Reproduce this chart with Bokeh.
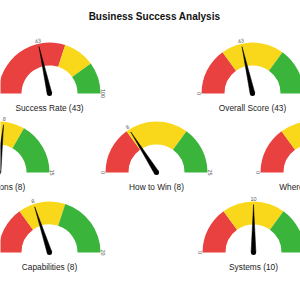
import math
from bokeh.plotting import figure
from bokeh.models import ColumnDataSource, Range1d
from bokeh.core.properties import value
from bokeh.embed import file_html
from bokeh.resources import INLINE

# ---- data ----
names = ["Success Rate", "Overall Score", "Aspirations", "How to Win", "Where to Play", "Capabilities", "Systems"]
values = [43, 43, 8, 8, 8, 8, 10]
maxes = [100, 100, 15, 25, 15, 20, 20]
red_end = [60, 30, 5, 7.5, 4.5, 6, 6]
yellow_end = [80, 70, 10, 17.5, 10.5, 12, 14]

# ---- layout (gauge centres, in pixels from top-left) ----
cx = [49, 252, -2, 156, 311, 49, 253]
cy_top = [93, 93, 172, 172, 172, 252, 252]

H = 300
R_OUT, R_IN = 51, 28
NEEDLE = 48
RED, YELLOW, GREEN = "#E9413F", "#F9D81B", "#3AB43A"
FONT = value("Liberation Sans")

p = figure(width=300, height=300, x_range=Range1d(0, 300), y_range=Range1d(0, H),
           output_backend="svg", toolbar_location=None, min_border=0)
p.axis.visible = False
p.grid.visible = False
p.outline_line_color = None
p.background_fill_color = "white"
p.border_fill_color = "white"

def ang(v, m):
    return math.pi * (1 - v / m)

# bands
bx, by, bs, be, bc = [], [], [], [], []
for i in range(len(names)):
    x, y, m = cx[i], H - cy_top[i], maxes[i]
    segs = [(0, red_end[i], RED), (red_end[i], yellow_end[i], YELLOW), (yellow_end[i], m, GREEN)]
    for a, b, c in segs:
        bx.append(x); by.append(y)
        bs.append(ang(b, m)); be.append(ang(a, m)); bc.append(c)
p.annular_wedge(x="x", y="y", inner_radius=R_IN, outer_radius=R_OUT,
                start_angle="s", end_angle="e", fill_color="c", line_color=None,
                source=ColumnDataSource(dict(x=bx, y=by, s=bs, e=be, c=bc)))

# needles
nxs, nys = [], []
for i in range(len(names)):
    x, y = cx[i], H - cy_top[i]
    t = ang(values[i], maxes[i])
    w = 2.4
    px, py = -math.sin(t) * w, math.cos(t) * w
    tx, ty = x + NEEDLE * math.cos(t), y + NEEDLE * math.sin(t)
    nxs.append([x + px, tx, x - px, x - math.cos(t) * 1.5])
    nys.append([y + py, ty, y - py, y - math.sin(t) * 1.5])
p.patches(xs=nxs, ys=nys, fill_color="black", line_color="black", line_width=0.5)
p.scatter(x=cx, y=[H - c for c in cy_top], size=5, fill_color="black", line_color=None)

# small labels: value at tip, 0 at left end, max at right end (only those on the page)
lx, ly, lt, la = [], [], [], []
def add_label(x, y, t, a):
    if -2 <= x <= 302:
        lx.append(x); ly.append(y); lt.append(t); la.append(a)
for i in range(len(names)):
    x, y, m = cx[i], H - cy_top[i], maxes[i]
    t = ang(values[i], m)
    add_label(x + 54 * math.cos(t), y + 54 * math.sin(t), str(values[i]), t - math.pi / 2)
    add_label(x - 53.5, y, "0", math.pi / 2)
    add_label(x + 53.5, y, str(m), -math.pi / 2)
p.text(x=lx, y=ly, text=lt, angle=la, text_font=FONT, text_font_size="5.5px",
       text_color="#555555", text_align="center", text_baseline="middle")

# gauge titles
p.text(x=cx, y=[H - c - 14 for c in cy_top], text=[f"{n} ({v})" for n, v in zip(names, values)],
       text_font=FONT, text_font_size="8.3px", text_color="#222222",
       text_align="center", text_baseline="middle")

# main title
p.text(x=[154], y=[H - 16], text=["Business Success Analysis"], text_font=FONT,
       text_font_size="10px", text_font_style="bold", text_color="#111111",
       text_align="center", text_baseline="middle")

open("out.html", "w").write(file_html(p, INLINE))
